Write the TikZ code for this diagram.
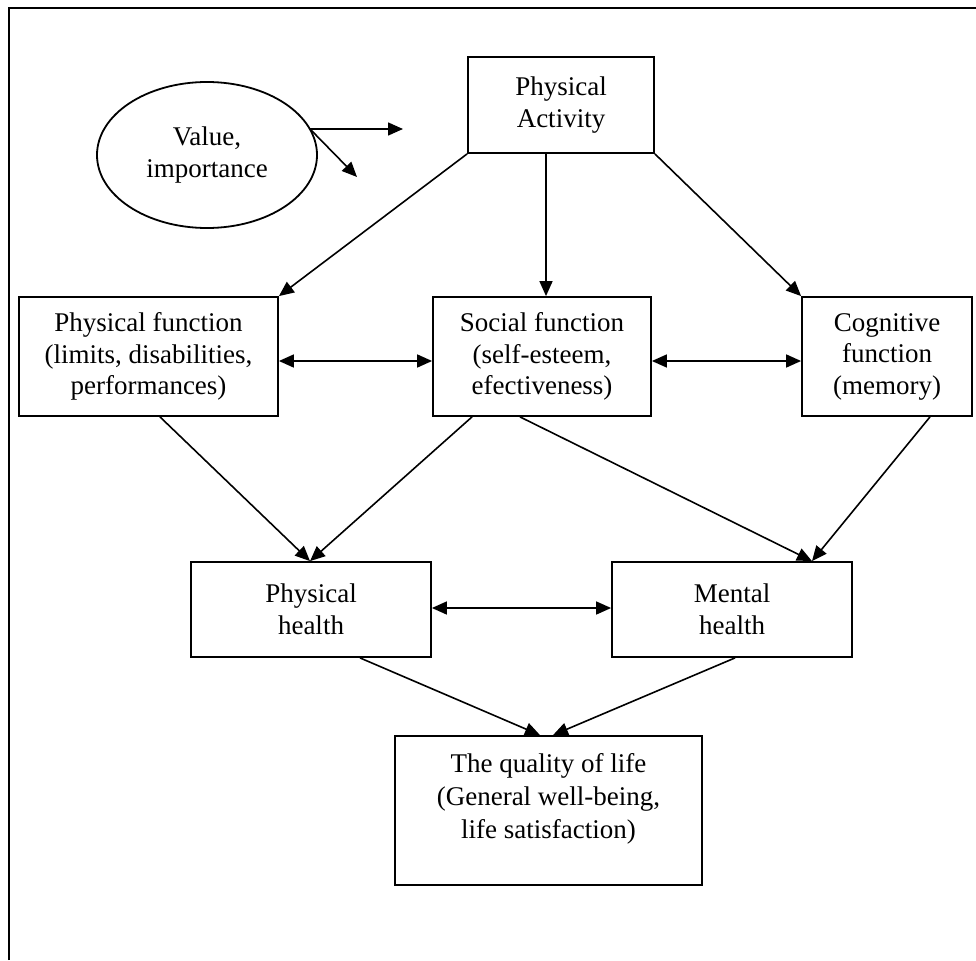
\documentclass[tikz,border=0pt]{standalone}
\usepackage{fontspec}
\setmainfont{Liberation Serif}
\usetikzlibrary{shapes.geometric,arrows.meta,calc}
\tikzset{
  box/.style={draw, line width=1.8pt, rectangle, inner sep=0pt, align=center,
    font=\fontsize{27}{31.5}\selectfont},
  txt/.style={inner sep=0pt, align=center, font=\fontsize{27}{33}\selectfont},
  oval/.style={draw, line width=1.8pt, ellipse, inner sep=0pt, align=center,
    font=\fontsize{27}{31.5}\selectfont},
  arr/.style={line width=1.6pt, -{Triangle[length=15pt,width=13pt]}},
  darr/.style={line width=1.6pt, {Triangle[length=15pt,width=13pt]}-{Triangle[length=15pt,width=13pt]}},
  frame/.style={line width=2pt}
}
\begin{document}
\begin{tikzpicture}[x=1pt,y=-1pt]
\useasboundingbox (0,0) rectangle (976,960);
\fill[white] (0,0) rectangle (976,960);
% frame (left and top)
\draw[frame] (9,960) -- (9,8) -- (976,8);

\node[box, minimum width=186pt, minimum height=96pt] (pa) at (561,105) {Physical\\Activity};
\node[oval, minimum width=220pt, minimum height=146pt] (ell) at (207,155) {Value,\\importance};

\node[box, minimum width=259pt, minimum height=119pt] (pf) at (148.5,356.5) {Physical function\\(limits, disabilities,\\performances)};
\node[box, minimum width=218pt, minimum height=119pt] (sf) at (542,356.5) {Social function\\(self-esteem,\\efectiveness)};
\node[box, minimum width=170pt, minimum height=119pt] (cf) at (887,356.5) {Cognitive\\function\\(memory)};

\node[box, minimum width=240pt, minimum height=95pt] (ph) at (311,609.5) {Physical\\health};
\node[box, minimum width=240pt, minimum height=95pt] (mh) at (732,609.5) {Mental\\health};

\node[box, minimum width=307pt, minimum height=149pt] (ql) at (548.5,810.5) {};
\node[txt, anchor=north] (qlt) at ([yshift=-18pt]ql.north) {The quality of life\\(General well-being,\\life satisfaction)};

% ellipse arrows with free ends
\coordinate (es) at (310,129);
\coordinate (h1) at (403,129);
\coordinate (d1) at (357,177);
\draw[arr] (es) -- (h1);
\draw[arr] (es) -- (d1);

% from physical activity
\draw[arr] (pa.south west) -- (pf.north east);
\draw[arr] ([xshift=-15pt]pa.south) -- ([xshift=4pt]sf.north);
\draw[arr] (pa.south east) -- (cf.north west);

% middle double arrows
\draw[darr] ([yshift=-4.5pt]pf.east) -- ([yshift=-4.5pt]sf.west);
\draw[darr] ([yshift=-4.5pt]sf.east) -- ([yshift=-4.5pt]cf.west);

% to health boxes
\draw[arr] ([xshift=11.5pt]pf.south) -- ([xshift=-1pt]ph.north);
\draw[arr] ([xshift=-70pt]sf.south) -- ([xshift=-1pt]ph.north);
\draw[arr] ([xshift=-22pt]sf.south) -- ([xshift=80pt]mh.north);
\draw[arr] ([xshift=43pt]cf.south) -- ([xshift=80pt]mh.north);

% health double arrow
\draw[darr] ([yshift=1.5pt]ph.east) -- ([yshift=1.5pt]mh.west);

% to quality of life
\draw[arr] ([xshift=49pt]ph.south) -- ([xshift=-8.5pt]ql.north);
\draw[arr] ([xshift=3pt]mh.south) -- ([xshift=4.5pt]ql.north);
\end{tikzpicture}
\end{document}
